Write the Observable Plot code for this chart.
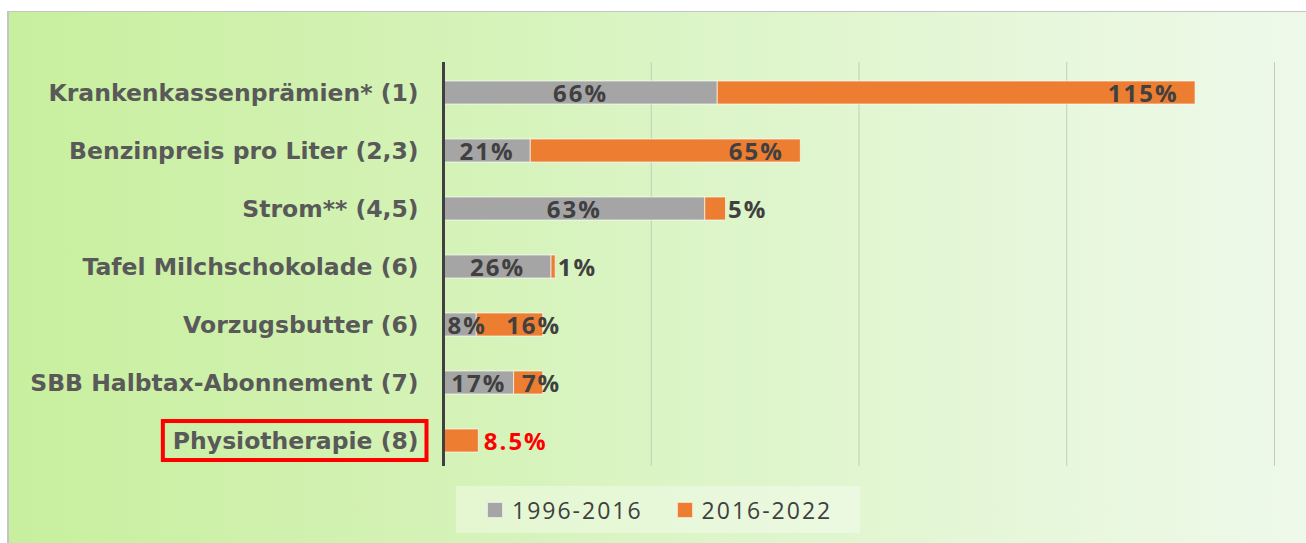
<!DOCTYPE html>
<html><head><meta charset="utf-8">
<script src="https://cdn.jsdelivr.net/npm/d3@7"></script>
<script src="https://cdn.jsdelivr.net/npm/@observablehq/plot@0.6"></script>
<style>
body{margin:0;background:#fff;width:1306px;height:543px;overflow:hidden;font-family:"Open Sans",sans-serif;}
#wrap{position:relative;width:1306px;height:543px;}
#frame{position:absolute;left:7px;top:11px;right:0;bottom:0;
  background:linear-gradient(to right,#c8ef9e 0%,#d3f2b4 30%,#ddf5c9 55%,#e6f7da 78%,#eef9ea 100%);
  border-top:1px solid #c4c4c4;border-left:2px solid #c4c4c4;}
#chart{position:absolute;left:0;top:0;width:1306px;}
.cat text{font-family:"DejaVu Sans",sans-serif;font-weight:700;font-size:23.5px;fill:#595959;}
.val text{font-family:"Open Sans",sans-serif;font-weight:700;font-size:24px;letter-spacing:2px;}
.legend{margin-left:456px;margin-top:6px;width:404px;height:47px;background:rgba(255,255,255,0.35);
  display:flex;align-items:center;box-sizing:border-box;padding-left:31px;font-family:"Open Sans",sans-serif;
  font-size:23px;letter-spacing:2px;color:#404040;white-space:nowrap;}
.legend .sw{width:14px;height:14px;border:1px solid rgba(255,255,255,0.7);margin-right:9px;flex-shrink:0;}
.legend .item{display:flex;align-items:center;margin-right:34px;flex-shrink:0;}
</style></head>
<body>
<div id="wrap"><div id="frame"></div><div id="chart"></div></div>
<script>
const categories = ["Krankenkassenprämien* (1)","Benzinpreis pro Liter (2,3)","Strom** (4,5)","Tafel Milchschokolade (6)","Vorzugsbutter (6)","SBB Halbtax-Abonnement (7)","Physiotherapie (8)"];
const series = ["1996-2016","2016-2022"];
const values1996 = [66,21,63,26,8,17,0];
const values2016 = [115,65,5,1,16,7,8.5];
const labels1996 = ["66%","21%","63%","26%","8%","17%",""];
const labels2016 = ["115%","65%","5%","1%","16%","7%","8.5%"];
const gridTicks = [50,100,150,200];
const highlight = "Physiotherapie (8)";
const colors = ["#a5a5a5","#ed7d31"];

const rows = [];
categories.forEach((c,i)=>{
  rows.push({cat:c, series:series[0], value:values1996[i]});
  rows.push({cat:c, series:series[1], value:values2016[i]});
});
const lab = categories.map((c,i)=>({cat:c, a:values1996[i], b:values2016[i], la:labels1996[i], lb:labels2016[i]}));
const grayLab = lab.filter(d=>d.a>=10);
const tinyGrayLab = lab.filter(d=>d.a>0 && d.a<10);
const bigLab = lab.filter(d=>d.cat!==highlight && d.b>=50);
const midLab = lab.filter(d=>d.cat!==highlight && d.b>=7 && d.b<50);
const smallLab = lab.filter(d=>d.cat!==highlight && d.b<7);
const hiLab = lab.filter(d=>d.cat===highlight);

const chart = Plot.plot({
  width:1306, height:480,
  marginLeft:443, marginRight:32, marginTop:62, marginBottom:10,
  style:{background:"transparent", overflow:"visible"},
  x:{domain:[0,200], axis:null},
  y:{domain:categories, paddingInner:0.61, paddingOuter:0.305, label:null},
  color:{domain:series, range:colors},
  marks:[
    Plot.ruleX(gridTicks,{stroke:"#c3ccbc", strokeWidth:1, insetBottom:4}),
    Plot.barX(rows, Plot.stackX({x:"value", y:"cat", fill:"series", stroke:"white", strokeOpacity:0.65, strokeWidth:1})),
    Plot.ruleX([0],{stroke:"#404040", strokeWidth:3, insetBottom:4}),
    Plot.axisY({tickSize:0, tickPadding:25, className:"cat", label:null}),
    Plot.text(grayLab,{x:d=>d.a/2, y:"cat", text:"la", fill:"#404040", className:"val", dy:1}),
    Plot.text(tinyGrayLab,{x:d=>d.a/2, y:"cat", text:"la", fill:"#404040", className:"val", dy:1, dx:7}),
    Plot.text(bigLab,{x:d=>d.a+d.b, y:"cat", text:"lb", fill:"#404040", textAnchor:"end", dx:-17, className:"val", dy:1}),
    Plot.text(midLab,{x:d=>d.a+d.b, y:"cat", text:"lb", fill:"#404040", textAnchor:"end", dx:18, className:"val", dy:1}),
    Plot.text(smallLab,{x:d=>d.a+d.b, y:"cat", text:"lb", fill:"#404040", textAnchor:"start", dx:2, className:"val", dy:1}),
    Plot.text(hiLab,{x:d=>d.a+d.b, y:"cat", text:"lb", fill:"#ff0000", textAnchor:"start", dx:5, className:"val", dy:1})
  ]
});
const host = document.getElementById("chart");
host.appendChild(chart);

// legend
const leg = document.createElement("div");
leg.className = "legend";
series.forEach((s,i)=>{
  const it = document.createElement("div"); it.className="item";
  const sw = document.createElement("div"); sw.className="sw"; sw.style.background=colors[i];
  const tx = document.createElement("span"); tx.textContent=s;
  it.appendChild(sw); it.appendChild(tx); leg.appendChild(it);
});
host.appendChild(leg);

// highlight box around the label
const svgRect = chart.getBoundingClientRect();
chart.querySelectorAll("text").forEach(t=>{
  if (t.textContent===highlight) {
    const r = t.getBoundingClientRect();
    const cy = (r.top+r.bottom)/2 - svgRect.top;
    const rect = document.createElementNS("http://www.w3.org/2000/svg","rect");
    rect.setAttribute("x", r.left - svgRect.left - 10);
    rect.setAttribute("y", cy - 19.5);
    rect.setAttribute("width", r.width + 18);
    rect.setAttribute("height", 39);
    rect.setAttribute("fill","none");
    rect.setAttribute("stroke","#ff0000");
    rect.setAttribute("stroke-width",4);
    chart.appendChild(rect);
  }
});
</script>
</body></html>
